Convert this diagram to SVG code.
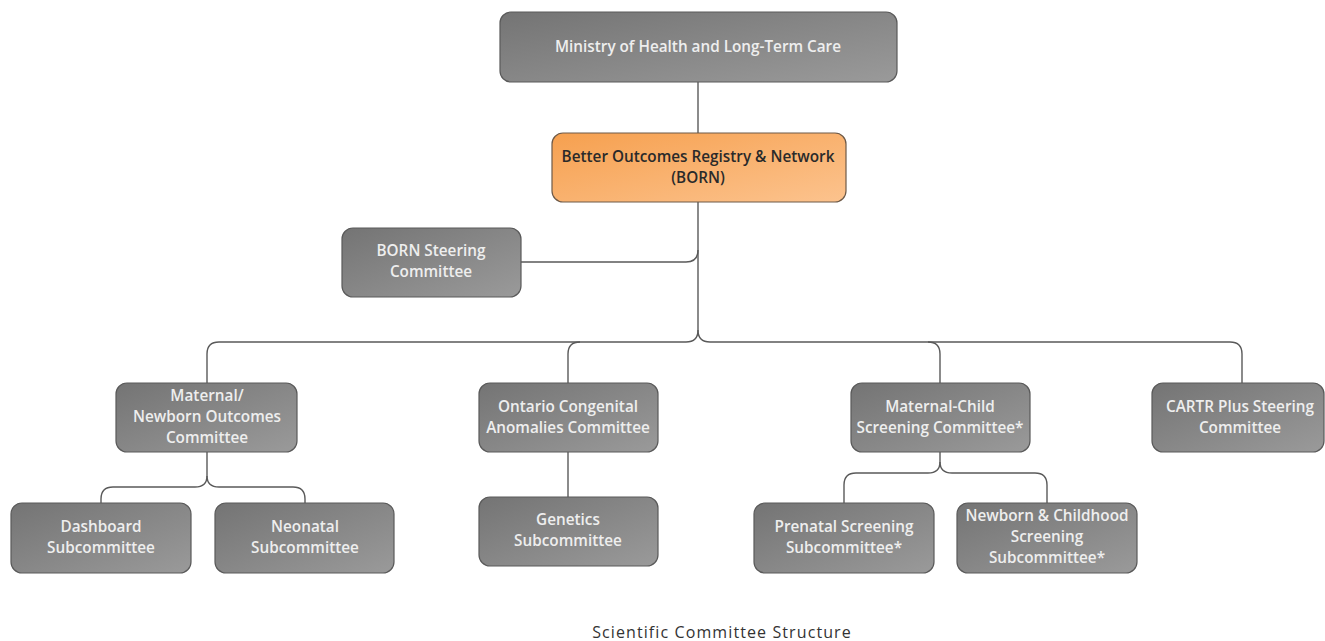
<svg xmlns="http://www.w3.org/2000/svg" width="1325" height="641" viewBox="0 0 1325 641">
  <defs>
    <linearGradient id="gGray" x1="0" y1="0" x2="1" y2="1">
      <stop offset="0" stop-color="#747474"/>
      <stop offset="1" stop-color="#9a9a9a"/>
    </linearGradient>
    <linearGradient id="gOrange" x1="0" y1="0" x2="1" y2="1">
      <stop offset="0" stop-color="#f6a04f"/>
      <stop offset="1" stop-color="#fcc38e"/>
    </linearGradient>
    <style>
      .box { fill: url(#gGray); stroke: #5a5a5a; stroke-width: 1.2; }
      .hub { fill: url(#gOrange); stroke: #6e5a48; stroke-width: 1.2; }
      .lbl { font-family: "Open Sans", "Liberation Sans", Arial, sans-serif; font-size: 15.3px; font-weight: 600; fill: #eeeeee; text-anchor: middle; }
      .lbl-dark { fill: #2a2a2a; }
      .wire { fill: none; stroke: #5a5a5a; stroke-width: 1.4; }
      .caption { font-family: "Open Sans", "Liberation Sans", Arial, sans-serif; font-size: 16px; letter-spacing: 1.1px; fill: #333; text-anchor: middle; }
    </style>
  </defs>
  <rect width="1325" height="641" fill="#ffffff"/>

  <g id="connectors">
    <path class="wire" d="M698,82 V133"/>
    <path class="wire" d="M698,202 V250 Q698,262 686,262 H521"/>
    <path class="wire" d="M698,250 V330 Q698,342 686,342 H219 Q207,342 207,354 V383"/>
    <path class="wire" d="M698,330 Q698,342 710,342 H1230 Q1242,342 1242,354 V383"/>
    <path class="wire" d="M580,342 Q568,342 568,354 V383"/>
    <path class="wire" d="M928,342 Q940,342 940,354 V383"/>
    <path class="wire" d="M207,452 V476 Q207,487 195,487 H113 Q101,487 101,499 V503"/>
    <path class="wire" d="M207,476 Q207,487 219,487 H293 Q305,487 305,499 V503"/>
    <path class="wire" d="M568,452 V497"/>
    <path class="wire" d="M940,452 V462 Q940,473 928,473 H856 Q844,473 844,485 V503"/>
    <path class="wire" d="M940,462 Q940,473 952,473 H1035 Q1047,473 1047,485 V503"/>
  </g>

  <g id="ministry">
    <rect class="box" x="500" y="12" width="397" height="70" rx="11"/>
    <text class="lbl" x="698" y="52">Ministry of Health and Long-Term Care</text>
  </g>
  <g id="born">
    <rect class="hub" x="552" y="133" width="294" height="69" rx="11"/>
    <text class="lbl lbl-dark" x="698" y="162">Better Outcomes Registry &amp; Network</text>
    <text class="lbl lbl-dark" x="698" y="183">(BORN)</text>
  </g>
  <g id="born-steering">
    <rect class="box" x="342" y="228" width="179" height="69" rx="11"/>
    <text class="lbl" x="431" y="256">BORN Steering</text>
    <text class="lbl" x="431" y="277">Committee</text>
  </g>
  <g id="maternal-newborn">
    <rect class="box" x="116" y="383" width="181" height="69" rx="11"/>
    <text class="lbl" x="207" y="401">Maternal/</text>
    <text class="lbl" x="207" y="422">Newborn Outcomes</text>
    <text class="lbl" x="207" y="443">Committee</text>
  </g>
  <g id="congenital">
    <rect class="box" x="479" y="383" width="179" height="69" rx="11"/>
    <text class="lbl" x="568" y="412">Ontario Congenital</text>
    <text class="lbl" x="568" y="433">Anomalies Committee</text>
  </g>
  <g id="maternal-child">
    <rect class="box" x="851" y="383" width="179" height="69" rx="11"/>
    <text class="lbl" x="940" y="412">Maternal-Child</text>
    <text class="lbl" x="940" y="433">Screening Committee*</text>
  </g>
  <g id="cartr">
    <rect class="box" x="1152" y="383" width="172" height="69" rx="11"/>
    <text class="lbl" x="1240" y="412">CARTR Plus Steering</text>
    <text class="lbl" x="1240" y="433">Committee</text>
  </g>
  <g id="dashboard">
    <rect class="box" x="11" y="503" width="180" height="70" rx="11"/>
    <text class="lbl" x="101" y="532">Dashboard</text>
    <text class="lbl" x="101" y="553">Subcommittee</text>
  </g>
  <g id="neonatal">
    <rect class="box" x="215" y="503" width="179" height="70" rx="11"/>
    <text class="lbl" x="305" y="532">Neonatal</text>
    <text class="lbl" x="305" y="553">Subcommittee</text>
  </g>
  <g id="genetics">
    <rect class="box" x="479" y="497" width="179" height="69" rx="11"/>
    <text class="lbl" x="568" y="525">Genetics</text>
    <text class="lbl" x="568" y="546">Subcommittee</text>
  </g>
  <g id="prenatal">
    <rect class="box" x="754" y="503" width="180" height="70" rx="11"/>
    <text class="lbl" x="844" y="532">Prenatal Screening</text>
    <text class="lbl" x="844" y="553">Subcommittee*</text>
  </g>
  <g id="newborn-childhood">
    <rect class="box" x="957" y="503" width="180" height="70" rx="11"/>
    <text class="lbl" x="1047" y="521">Newborn &amp; Childhood</text>
    <text class="lbl" x="1047" y="542">Screening</text>
    <text class="lbl" x="1047" y="563">Subcommittee*</text>
  </g>

  <text class="caption" x="722" y="638">Scientific Committee Structure</text>
</svg>
